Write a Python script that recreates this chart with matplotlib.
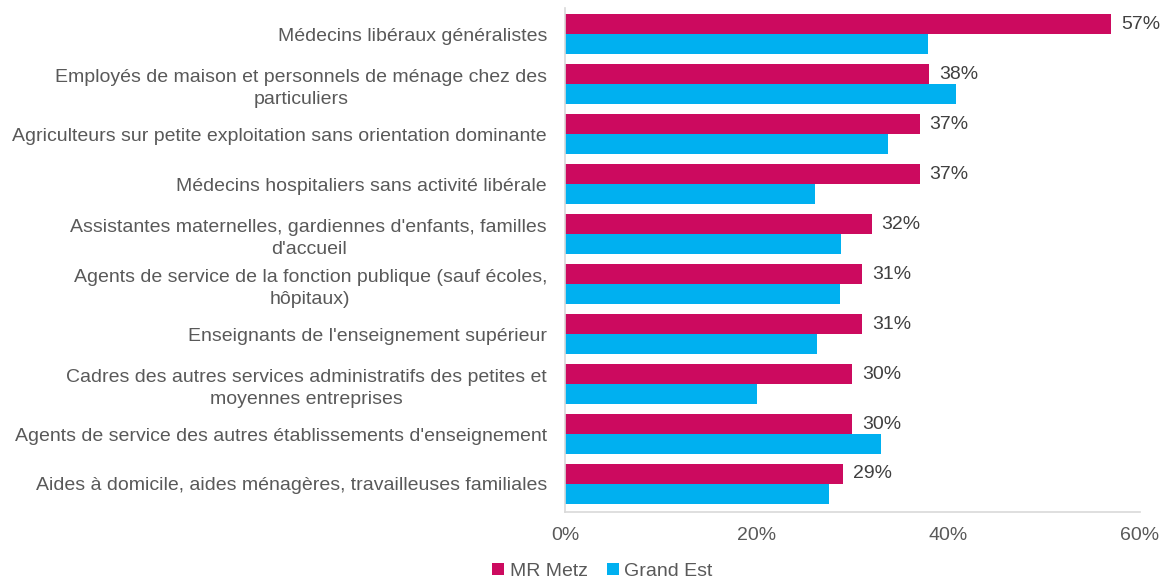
import matplotlib.pyplot as plt
import numpy as np

categories = [
    "Médecins libéraux généralistes",
    "Employés de maison et personnels de ménage chez des\nparticuliers",
    "Agriculteurs sur petite exploitation sans orientation dominante",
    "Médecins hospitaliers sans activité libérale",
    "Assistantes maternelles, gardiennes d'enfants, familles\nd'accueil",
    "Agents de service de la fonction publique (sauf écoles,\nhôpitaux)",
    "Enseignants de l'enseignement supérieur",
    "Cadres des autres services administratifs des petites et\nmoyennes entreprises",
    "Agents de service des autres établissements d'enseignement",
    "Aides à domicile, aides ménagères, travailleuses familiales",
]
mr_metz = [57, 38, 37, 37, 32, 31, 31, 30, 30, 29]
grand_est = [37.9, 40.8, 33.7, 26.1, 28.8, 28.7, 26.3, 20.0, 33.0, 27.5]
series_names = ["MR Metz", "Grand Est"]
xticks = [0, 20, 40, 60]

plt.rcParams['font.family'] = ['Liberation Sans', 'DejaVu Sans']

pink = "#CC0A5F"
blue = "#00B0F0"
grey_text = "#595959"
fs = 14

fig = plt.figure(figsize=(11.63, 5.78), dpi=100)
ax = fig.add_axes([0.4858, 0.1142, 0.4944, 0.8718])

y = np.arange(len(categories))
h = 0.4
b1 = ax.barh(y - h / 2, mr_metz, height=h, color=pink, label=series_names[0])
b2 = ax.barh(y + h / 2, grand_est, height=h, color=blue, label=series_names[1])

for yi, v in zip(y, mr_metz):
    ax.annotate(f"{v}%", (v, yi - h / 2), xytext=(7, 0), textcoords="offset points",
                va="center", ha="left", fontsize=fs, color="#404040", annotation_clip=False)

ax.set_xlim(0, 60)
ax.set_ylim(9.56, -0.52)
ax.set_xticks(xticks)
ax.set_xticklabels([f"{t}%" for t in xticks], fontsize=fs, color=grey_text)
ax.set_yticks(y)
ax.set_yticklabels(categories, fontsize=fs, color=grey_text, multialignment="center",
                   linespacing=1.35)
ax.tick_params(axis="y", length=0, pad=13)
ax.tick_params(axis="x", length=0, pad=11)

for s in ["top", "right"]:
    ax.spines[s].set_visible(False)
for s in ["left", "bottom"]:
    ax.spines[s].set_color("#D9D9D9")
    ax.spines[s].set_linewidth(1.2)

fig.legend(handles=[b1, b2], loc="lower center", bbox_to_anchor=(0.518, -0.034), ncol=2,
           frameon=False, fontsize=fs, handlelength=0.6, handleheight=0.6,
           handletextpad=0.3, columnspacing=1.0, labelcolor=grey_text)

fig.savefig("out.png", dpi=100)
